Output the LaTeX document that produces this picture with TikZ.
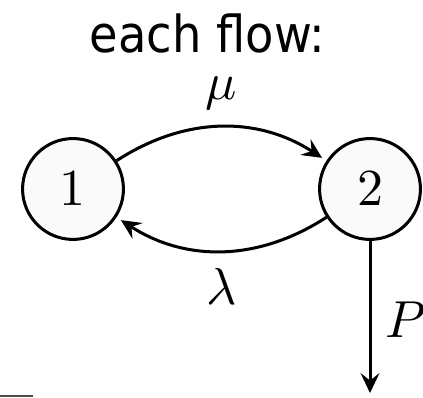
\documentclass[tikz,border=0pt]{standalone}
\usepackage{fontspec}
\newfontfamily\titlefont{DejaVu Sans}
\usetikzlibrary{arrows.meta}
\begin{document}
\begin{tikzpicture}[x=0.1923pt,y=0.1923pt,
  state/.style={circle,draw,line width=0.58pt,fill=black!2,minimum size=19.4pt,inner sep=0pt},
  arr/.style={line width=0.58pt,-{Stealth[length=3.8pt,width=3.6pt,inset=1.4pt]}},
  lbl/.style={inner sep=0pt,anchor=base}]
\useasboundingbox (0,0) rectangle (423,398);
\node[state] (n1) at (73,209) {$1$};
\node[state] (n2) at (370,209) {$2$};
\node[lbl] (title) at (207.5,345) {\titlefont\fontsize{9.8pt}{11pt}\selectfont\scalebox{0.91}[1]{each flow:}};
\coordinate (out) at (370,5);
\draw[arr,shorten >=1pt] (n1) to[bend left=33] (n2);
\node[lbl] (mulbl) at (221.5,298) {$\mu$};
\draw[arr,shorten >=1pt] (n2) to[bend left=33] (n1);
\node[lbl] (lam) at (221.5,93) {$\lambda$};
\draw[arr] (n2) -- (out);
\node[lbl] (P) at (406,60) {$P$};
\coordinate (l1) at (0,2);
\coordinate (l2) at (33,2);
\draw[line width=0.3pt,black!70] (l1) -- (l2);
\end{tikzpicture}
\end{document}
